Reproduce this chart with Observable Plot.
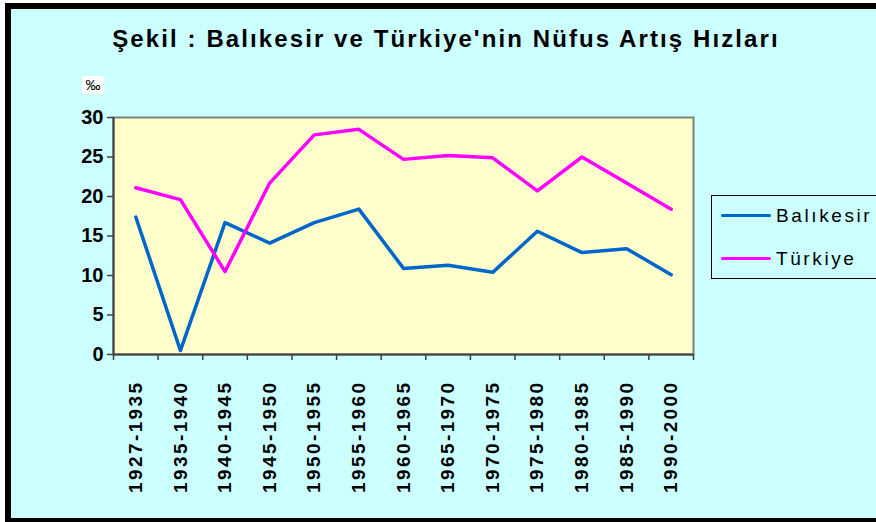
<!DOCTYPE html>
<html>
<head>
<meta charset="utf-8">
<script src="https://cdn.jsdelivr.net/npm/d3@7"></script>
<script src="https://cdn.jsdelivr.net/npm/@observablehq/plot@0.6"></script>
<style>
  html, body { margin: 0; padding: 0; background: #ffffff; }
  #wrap { position: relative; width: 876px; height: 522px; overflow: hidden; background: #ffffff;
          font-family: "Liberation Sans", Arial, sans-serif; }
  #panel { position: absolute; left: 5px; top: 3px; width: 880px; height: 509px;
           border-left: 6px solid #000; border-top: 6px solid #000; border-bottom: 6px solid #000;
           background: #CCFFFF; }
  #chart { position: absolute; left: 0; top: 0; }
  #title { position: absolute; left: 0; width: 892px; top: 25px; text-align: center;
           font-weight: bold; font-size: 24px; letter-spacing: 2.1px; color: #000; white-space: nowrap; }
  #unit { position: absolute; left: 82px; top: 76px; width: 22px; height: 18px; background: #fff;
          font-size: 15px; line-height: 18px; text-align: center; color: #000; }
  #legend { position: absolute; left: 711px; top: 195px; width: 200px; height: 82px;
            border: 1px solid #000; }
  .li { position: absolute; left: 9px; height: 20px; font-size: 19px; letter-spacing: 2.6px; line-height: 20px; white-space: nowrap; }
  .li span.sw { display: inline-block; width: 50px; height: 3px; vertical-align: middle; margin-right: 5px; border-radius: 2px; }
  .li span.t { vertical-align: middle; }
  svg text { font-family: "Liberation Sans", Arial, sans-serif; }
</style>
</head>
<body>
<div id="wrap">
  <div id="panel"></div>
  <div id="chart"></div>
  <div id="title"></div>
  <div id="unit">‰</div>
  <div id="legend"></div>
</div>
<script>
const title = "Şekil : Balıkesir ve Türkiye'nin Nüfus Artış Hızları";
const periods = ["1927-1935","1935-1940","1940-1945","1945-1950","1950-1955","1955-1960","1960-1965",
                 "1965-1970","1970-1975","1975-1980","1980-1985","1985-1990","1990-2000"];
const balikesir = [17.4, 0.5, 16.7, 14.1, 16.7, 18.4, 10.9, 11.3, 10.4, 15.6, 12.9, 13.4, 10.1];
const turkiye   = [21.1, 19.6, 10.5, 21.7, 27.8, 28.5, 24.7, 25.2, 24.9, 20.7, 25.0, 21.7, 18.4];
const seriesNames = ["Balıkesir", "Türkiye"];
const seriesColors = ["#0066CC", "#FF00FF"];
const yTicks = [0, 5, 10, 15, 20, 25, 30];

const rows = [];
periods.forEach((p, i) => {
  rows.push({i, period: p, series: seriesNames[0], value: balikesir[i]});
  rows.push({i, period: p, series: seriesNames[1], value: turkiye[i]});
});
const idx = periods.map((_, i) => i);
const bounds = d3.range(-0.5, periods.length, 1);

document.getElementById("title").textContent = title;

const chart = Plot.plot({
  width: 876,
  height: 522,
  marginLeft: 113,
  marginRight: 183,
  marginTop: 117,
  marginBottom: 168,
  style: {background: "transparent", overflow: "visible"},
  x: {type: "linear", domain: [-0.5, periods.length - 0.5]},
  y: {domain: [0, 30]},
  color: {domain: seriesNames, range: seriesColors},
  marks: [
    Plot.frame({fill: "#FFFFCC", stroke: "#808080", strokeWidth: 2}),
    Plot.axisY({ticks: yTicks, tickSize: 6, tickPadding: 4, stroke: "#404040", strokeWidth: 1.5,
                fontSize: 20, fontWeight: "bold", fill: "#000", label: null}),
    Plot.axisX({ticks: bounds, tickSize: 6, tickFormat: () => "", stroke: "#404040", strokeWidth: 1.5, label: null}),
    Plot.axisX({ticks: idx, tickSize: 0, tickPadding: 26, tickRotate: -90, tickFormat: i => periods[i],
                fontSize: 19, fontWeight: "bold", fill: "#000", label: null}),
    Plot.ruleX([-0.5], {stroke: "#404040", strokeWidth: 2}),
    Plot.ruleY([0], {stroke: "#404040", strokeWidth: 2}),
    Plot.line(rows, {x: "i", y: "value", z: "series", stroke: "series", strokeWidth: 3.5,
                     strokeLinejoin: "round", strokeLinecap: "round"})
  ]
});
document.getElementById("chart").appendChild(chart);
// letter-spacing on tick labels, as in the original rendering
chart.querySelectorAll('g[aria-label="x-axis tick label"] text').forEach(t => t.setAttribute("letter-spacing", "2.4"));

const legend = document.getElementById("legend");
seriesNames.forEach((n, k) => {
  const d = document.createElement("div");
  d.className = "li";
  d.style.top = (k === 0 ? 9 : 52) + "px";
  d.innerHTML = `<span class="sw" style="background:${seriesColors[k]}"></span><span class="t">${n}</span>`;
  legend.appendChild(d);
});
</script>
</body>
</html>
